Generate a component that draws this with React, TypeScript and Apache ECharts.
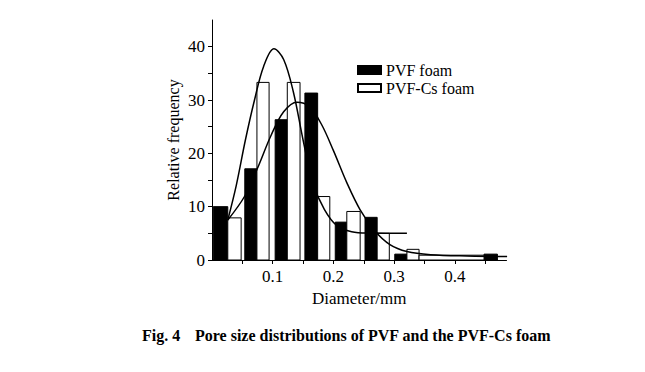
import React, { useEffect, useRef } from "react";
import * as echarts from "echarts";

// Histogram bins: [start diameter (mm), end diameter (mm), relative frequency]
const pvfBins = [
  [0.002, 0.026, 10.0],
  [0.054, 0.074, 17.1],
  [0.104, 0.124, 26.3],
  [0.153, 0.174, 31.3],
  [0.203, 0.222, 7.1],
  [0.252, 0.272, 8.0],
  [0.301, 0.321, 1.1],
  [0.448, 0.47, 1.1],
];
const pvfCsBins = [
  [0.026, 0.048, 7.9],
  [0.074, 0.094, 33.3],
  [0.124, 0.145, 33.3],
  [0.174, 0.194, 11.9],
  [0.222, 0.244, 9.1],
  [0.272, 0.292, 5.0],
  [0.321, 0.341, 2.0],
  [0.341, 0.448, 0.9],
];
// Fitted curves: [diameter, frequency]
const pvfCsFit = [
  [0.026, 7.5],
  [0.04, 14.0],
  [0.055, 22.5],
  [0.07, 30.0],
  [0.085, 36.3],
  [0.102, 39.6],
  [0.118, 37.6],
  [0.134, 31.5],
  [0.15, 22.5],
  [0.166, 14.5],
  [0.185, 9.5],
  [0.206, 6.4],
  [0.23, 5.3],
  [0.26, 5.05],
  [0.321, 5.0],
];
const pvfFit = [
  [0.026, 7.5],
  [0.054, 12.0],
  [0.076, 17.5],
  [0.097, 23.3],
  [0.118, 27.8],
  [0.14, 29.6],
  [0.16, 28.8],
  [0.18, 25.5],
  [0.2, 20.5],
  [0.222, 14.5],
  [0.244, 9.4],
  [0.268, 5.5],
  [0.293, 2.9],
  [0.321, 1.6],
  [0.36, 1.0],
  [0.42, 0.75],
  [0.486, 0.65],
];
const xTickValues = [0.05, 0.1, 0.15, 0.2, 0.25, 0.3, 0.35, 0.4, 0.45];
const xLabelValues = [0.1, 0.2, 0.3, 0.4];
const yTickValues = [0, 5, 10, 15, 20, 25, 30, 35, 40];
const yLabelValues = [0, 10, 20, 30, 40];
const seriesNames = ["PVF foam", "PVF-Cs foam"];
const captionLabel = "Fig. 4";
const captionText = "Pore size distributions of PVF and the PVF-Cs foam";

const FONT = "Liberation Serif";

function barRenderer(fill: string) {
  return (params: any, api: any) => {
    const x0 = api.value(0);
    const x1 = api.value(1);
    const v = api.value(2);
    const p0 = api.coord([x0, v]);
    const p1 = api.coord([x1, 0]);
    return {
      type: "rect",
      shape: { x: p0[0], y: p0[1], width: p1[0] - p0[0], height: p1[1] - p0[1] },
      style: { fill, stroke: "#000", lineWidth: 1 },
    };
  };
}

export default function App() {
  const ref = useRef<HTMLDivElement>(null);
  useEffect(() => {
    const chart = echarts.init(ref.current!, null, { renderer: "svg" });
    chart.setOption({
      animation: false,
      grid: { left: 212, top: 20, width: 294.5, height: 240, containLabel: false },
      legend: {
        data: seriesNames,
        orient: "vertical",
        left: 352,
        top: 57,
        itemWidth: 23,
        itemHeight: 8,
        itemGap: 2,
        icon: "rect",
        textStyle: { fontFamily: FONT, fontSize: 16, color: "#000", lineHeight: 16 },
      },
      xAxis: {
        type: "value",
        min: 0,
        max: 0.485,
        interval: 0.05,
        splitLine: { show: false },
        axisLine: { show: true, onZero: false, lineStyle: { color: "#000", width: 1 } },
        axisTick: { show: true, length: 4, customValues: xTickValues, lineStyle: { color: "#000" } },
        axisLabel: {
          customValues: xLabelValues,
          margin: 8,
          color: "#000",
          fontFamily: FONT,
          fontSize: 17,
          formatter: (v: number) => v.toFixed(1),
        },
        name: "Diameter/mm",
        nameLocation: "middle",
        nameGap: 26,
        nameTextStyle: { fontFamily: FONT, fontSize: 17, color: "#000" },
      },
      yAxis: {
        type: "value",
        min: 0,
        max: 45,
        interval: 5,
        splitLine: { show: false },
        axisLine: { show: true, lineStyle: { color: "#000", width: 1 } },
        axisTick: { show: true, length: 4, customValues: yTickValues, lineStyle: { color: "#000" } },
        axisLabel: {
          customValues: yLabelValues,
          margin: 7,
          color: "#000",
          fontFamily: FONT,
          fontSize: 17,
        },
        name: "Relative frequency",
        nameLocation: "middle",
        nameGap: 31,
        nameTextStyle: { fontFamily: FONT, fontSize: 16, color: "#000" },
      },
      series: [
        {
          name: seriesNames[0],
          type: "custom",
          renderItem: barRenderer("#000"),
          encode: { x: [0, 1], y: 2 },
          itemStyle: { color: "#000", borderColor: "#000", borderWidth: 1 },
          data: pvfBins,
          z: 2,
        },
        {
          name: seriesNames[1],
          type: "custom",
          renderItem: barRenderer("#fff"),
          encode: { x: [0, 1], y: 2 },
          itemStyle: { color: "#fff", borderColor: "#000", borderWidth: 1 },
          data: pvfCsBins,
          z: 2,
        },
        {
          name: "PVF-Cs fit",
          type: "line",
          data: pvfCsFit,
          smooth: 0.35,
          showSymbol: false,
          symbol: "none",
          lineStyle: { color: "#000", width: 1.5 },
          z: 3,
        },
        {
          name: "PVF fit",
          type: "line",
          data: pvfFit,
          smooth: 0.35,
          showSymbol: false,
          symbol: "none",
          lineStyle: { color: "#000", width: 1.5 },
          z: 3,
        },
      ],
      graphic: [
        {
          type: "text",
          left: 142,
          top: 327,
          style: { text: captionLabel, font: `bold 16px "${FONT}"`, fill: "#000" },
        },
        {
          type: "text",
          left: 195,
          top: 327,
          style: { text: captionText, font: `bold 16px "${FONT}"`, fill: "#000" },
        },
      ],
    });
    return () => chart.dispose();
  }, []);
  return (
    <div
      ref={ref}
      style={{ position: "absolute", left: 0, top: 0, width: 645, height: 372 }}
    />
  );
}
